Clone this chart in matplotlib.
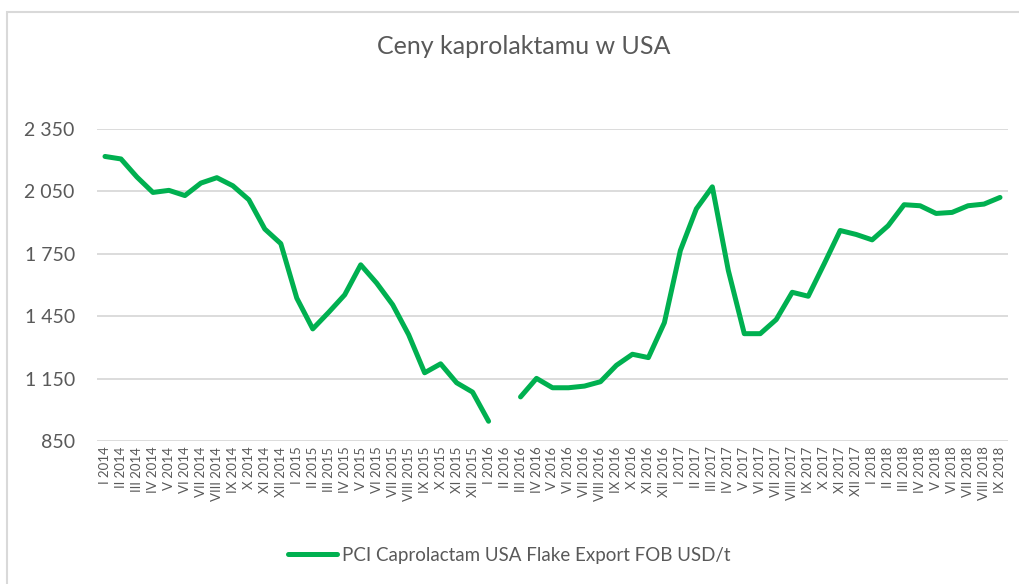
import numpy as np
import matplotlib.pyplot as plt
from matplotlib.patches import Rectangle

plt.rcParams['font.family'] = ['Lato', 'DejaVu Sans']

# Miesiące od I 2014 do IX 2018
miesiace = ['I', 'II', 'III', 'IV', 'V', 'VI', 'VII', 'VIII', 'IX', 'X', 'XI', 'XII']
lata = [2014, 2015, 2016, 2017, 2018]
etykiety = ['{} {}'.format(m, r) for r in lata for m in miesiace][:57]

# Ceny USD/t (brak notowania za II 2016)
ceny = [2218, 2206, 2119, 2045, 2055, 2030, 2090, 2116, 2077, 2010, 1869, 1799,
        1537, 1389, 1469, 1553, 1697, 1609, 1505, 1361, 1178, 1221, 1130, 1085,
        945, np.nan, 1062, 1151, 1106, 1106, 1114, 1135, 1214, 1267, 1251, 1419,
        1766, 1966, 2072, 1670, 1366, 1366, 1434, 1565, 1546, 1702, 1862, 1843,
        1817, 1885, 1986, 1981, 1944, 1949, 1981, 1989, 2021]
y_ticks = [850, 1150, 1450, 1750, 2050, 2350]

szary = '#595959'
zielony = '#00b050'

fig = plt.figure(figsize=(10.19, 5.84), dpi=100)
ax = fig.add_axes([97 / 1019, 1 - 441 / 584, (1008 - 97) / 1019, (441 - 129) / 584])

x = np.arange(len(ceny))
linia, = ax.plot(x, ceny, color=zielony, lw=3.6, solid_joinstyle='round',
                 solid_capstyle='round', label='PCI Caprolactam USA Flake Export FOB USD/t')

ax.set_xlim(-0.5, len(ceny) - 0.5)
ax.set_ylim(850, 2350)
ax.set_yticks(y_ticks)
ax.set_yticklabels(['{:,}'.format(v).replace(',', ' ') for v in y_ticks])
ax.set_xticks(x)
ax.set_xticklabels(etykiety, rotation=90)
ax.grid(axis='y', color='#d9d9d9', lw=1.3)
ax.set_axisbelow(True)
for s in ax.spines.values():
    s.set_visible(False)
ax.tick_params(axis='both', length=0, colors=szary)
ax.tick_params(axis='y', labelsize=14, pad=16)
ax.tick_params(axis='x', labelsize=9.5, pad=4)

fig.text(0.514, 1 - 47 / 584, 'Ceny kaprolaktamu w USA', ha='center', va='center',
         fontsize=18, color=szary)

fig.legend(handles=[linia], loc='center', bbox_to_anchor=(0.5, 1 - 555 / 584),
           frameon=False, fontsize=13.5, labelcolor=szary, handlelength=2.6,
           handletextpad=0.3)

# Ramka wykresu
fig.patches.append(Rectangle((7 / 1019, -0.05), 1.1, 1 - 12 / 584 + 0.05,
                             transform=fig.transFigure, fill=False,
                             edgecolor='#d9d9d9', lw=1.5))

fig.savefig('out.png', dpi=100)
